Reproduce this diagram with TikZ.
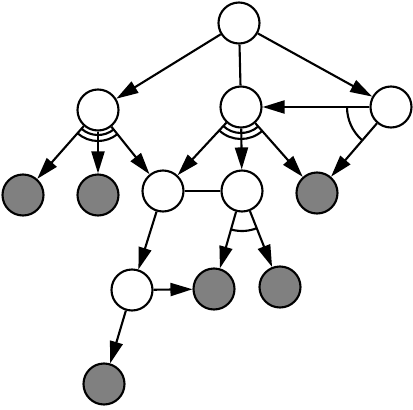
\documentclass[tikz,border=0pt]{standalone}
\usetikzlibrary{arrows.meta}
\begin{document}
\begin{tikzpicture}[x=1pt,y=-1pt,line width=2.1pt,
  wnode/.style={circle,draw=black,fill=white,minimum size=41pt,inner sep=0pt},
  gnode/.style={circle,draw=black,fill=gray,minimum size=41pt,inner sep=0pt},
  arr/.style={-{Triangle[length=22pt,width=13pt]}},
  plain/.style={-}]
\useasboundingbox (0,0) rectangle (413,410);
\node[wnode] (T) at (239,23) {};
\node[wnode] (A) at (98,110) {};
\node[wnode] (B) at (241,107) {};
\node[wnode] (C) at (391,107) {};
\node[gnode] (G1) at (23,195) {};
\node[gnode] (G2) at (98,195) {};
\node[wnode] (D) at (163,191) {};
\node[wnode] (E) at (242,191) {};
\node[gnode] (G3) at (317,193) {};
\node[wnode] (F) at (132,290) {};
\node[gnode] (G4) at (214,289) {};
\node[gnode] (G5) at (280,287) {};
\node[gnode] (G6) at (104,384) {};
\draw[arr] (T) -- (A);
\draw[plain] (T) -- (B);
\draw[arr] (T) -- (C);
\draw[arr] (A) -- (G1);
\draw[arr] (A) -- (G2);
\draw[arr] (A) -- (D);
\draw[arr] (B) -- (D);
\draw[arr] (B) -- (E);
\draw[arr] (B) -- (G3);
\draw[arr] (C) -- (B);
\draw[arr] (C) -- (G3);
\draw[plain] (D) -- (E);
\draw[arr] (D) -- (F);
\draw[arr] (E) -- (G4);
\draw[arr] (E) -- (G5);
\draw[arr] (F) -- (G4);
\draw[arr] (F) -- (G6);
% arcs
\draw ([shift={(51:25)}]A.center) arc[start angle=51,end angle=131,radius=25];
\draw ([shift={(51:31)}]A.center) arc[start angle=51,end angle=131,radius=31];
\draw ([shift={(48.5:26)}]B.center) arc[start angle=48.5,end angle=133,radius=26];
\draw ([shift={(48.5:32)}]B.center) arc[start angle=48.5,end angle=133,radius=32];
\draw ([shift={(131:44)}]C.center) arc[start angle=131,end angle=180,radius=44];
\draw ([shift={(68:40)}]E.center) arc[start angle=68,end angle=106,radius=40];
\end{tikzpicture}
\end{document}
